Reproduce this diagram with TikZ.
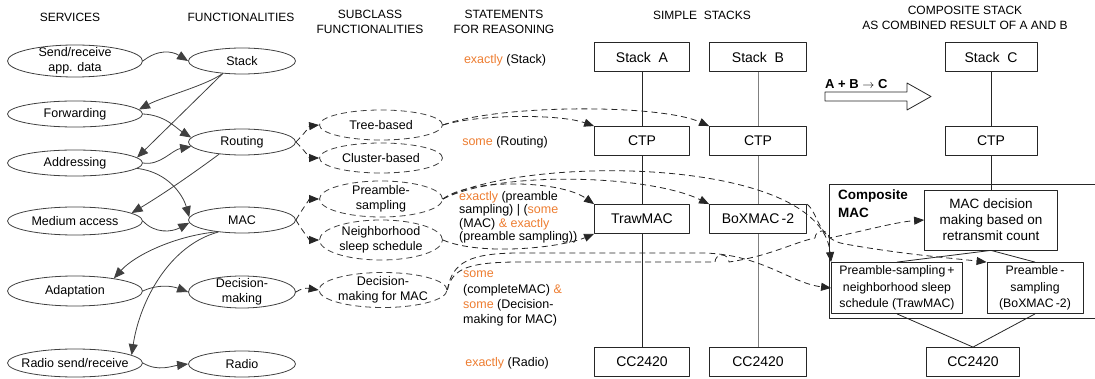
\documentclass[tikz,border=0pt]{standalone}
\usepackage{fontspec}
\setmainfont{Liberation Sans}
\usetikzlibrary{arrows.meta,shapes.geometric}
\definecolor{orng}{RGB}{237,125,49}
\definecolor{lgray}{RGB}{64,64,64}
\begin{document}
\begin{tikzpicture}[x=1pt,y=-1pt,line join=round,
	hdr/.style={font=\fontsize{12}{14.5}\selectfont,align=center,inner sep=0pt},
	srv/.style={ellipse,draw=lgray,line width=0.8pt,inner sep=0pt,minimum width=135pt,minimum height=26pt,align=center,font=\fontsize{12.5}{15}\selectfont},
	fun/.style={srv,minimum width=107pt},
	subfun/.style={srv,dash pattern=on 6pt off 4pt,minimum width=123pt,minimum height=30pt},
	stackbox/.style={draw=black!85,line width=0.8pt,minimum width=95pt,minimum height=29pt,inner sep=0pt,align=center,font=\fontsize{14}{16}\selectfont},
	stm/.style={align=left,inner sep=0pt,font=\fontsize{12.5}{13.5}\selectfont},
	solidarr/.style={-{Triangle[length=11pt,width=9pt]},draw=lgray,line width=0.8pt},
	dasharr/.style={-{Triangle[length=10pt,width=8pt]},draw=black!85,line width=0.8pt,dash pattern=on 6pt off 4pt},
	link/.style={draw=black!85,line width=0.8pt}]
	\useasboundingbox (0,0) rectangle (1095,379);
	\node[hdr] (hsrv) at (70,17) {SERVICES};
	\node[hdr] (hfun) at (241,17) {FUNCTIONALITIES};
	\node[hdr] (hsub) at (370,22) {SUBCLASS\\FUNCTIONALITIES};
	\node[hdr] (hstm) at (504,22) {STATEMENTS\\FOR REASONING};
	\node[hdr] (hsim) at (702,15) {SIMPLE\ \ STACKS};
	\node[hdr] (hcmp) at (965,18) {COMPOSITE STACK\\AS COMBINED RESULT OF A AND B};
	
	\node[srv,inner ysep=-3pt,minimum height=32pt] (send) at (75,61) {Send/receive\\app. data};
	\node[srv] (fwd) at (75,114) {Forwarding};
	\node[srv] (addr) at (75,163) {Addressing};
	\node[srv,minimum height=28pt] (medium) at (75,221) {Medium access};
	\node[srv,minimum height=30pt] (adapt) at (75,291) {Adaptation};
	\node[srv,minimum height=28pt,inner xsep=-12pt] (radiosr) at (75,363) {Radio send/receive};
	
	\node[fun] (stack) at (242,61) {Stack};
	\node[fun] (routing) at (242,142) {Routing};
	\node[fun] (mac) at (242,220) {MAC};
	\node[fun,inner ysep=-3pt,minimum height=32pt] (decide) at (242,292) {Decision-\\making};
	\node[fun] (radio) at (242,364) {Radio};
	
	\node[subfun] (tree) at (381,125) {Tree-based};
	\node[subfun] (cluster) at (381,158) {Cluster-based};
	\node[subfun,inner ysep=-1pt,minimum height=36pt] (pre) at (381,199) {Preamble-\\sampling};
	\node[subfun,minimum height=40pt] (nbr) at (381,240) {Neighborhood\\sleep schedule};
	\node[subfun,inner ysep=-1pt,minimum height=35pt,minimum width=128pt] (dmac) at (383,290) {Decision-\\making for MAC};
	
	\node[stm] (st1) at (505,60) {\textcolor{orng}{exactly} (Stack)};
	\node[stm] (st2) at (505,142) {\textcolor{orng}{some} (Routing)};
	\node[stm,anchor=north west] (st3) at (459,191) {\textcolor{orng}{exactly} (preamble\\sampling) | (\textcolor{orng}{some}\\(MAC) \textcolor{orng}{\& exactly}\\(preamble sampling))};
	\node[stm,anchor=north west,font=\fontsize{12.5}{15.3}\selectfont] (st4) at (463,271) {\textcolor{orng}{some}\\(completeMAC) \textcolor{orng}{\&}\\\textcolor{orng}{some} (Decision-\\making for MAC)};
	\node[stm] (st5) at (507,363) {\textcolor{orng}{exactly} (Radio)};
	
	\node[stackbox] (stkA) at (642,57) {Stack\ \ A};
	\node[stackbox] (ctpA) at (642,141) {CTP};
	\node[stackbox] (trawA) at (642,219) {TrawMAC};
	\node[stackbox] (ccA) at (642,362) {CC2420};
	\node[stackbox,minimum width=97pt] (stkB) at (758,57) {Stack\ \ B};
	\node[stackbox,minimum width=97pt] (ctpB) at (758,141) {CTP};
	\node[stackbox,minimum width=97pt] (boxB) at (758,219) {BoXMAC\,-2};
	\node[stackbox,minimum width=97pt] (ccB) at (758,362) {CC2420};
	
	\draw[line width=0.8pt,draw=black!85] (825,92)--(907,92)--(907,83)--(931,96.5)--(907,110)--(907,101)--(825,101)--cycle;
	\node[font=\bfseries\fontsize{13}{15}\selectfont,anchor=west,inner sep=0pt] (abc) at (825,84) {A + B $\rightarrow$ C};
	
	\node[stackbox,minimum width=92pt] (stkC) at (991,57) {Stack\ \ C};
	\node[stackbox,minimum width=92pt] (ctpC) at (991,141) {CTP};
	\node[draw=black!85,line width=0.8pt,minimum width=268pt,minimum height=134pt,inner sep=0pt] (cmpmac) at (963,251) {};
	\node[font=\bfseries\fontsize{13.5}{18}\selectfont,align=left,anchor=north west,inner sep=0pt] (cmptitle) at (838,190) {Composite\\MAC};
	\node[stackbox,minimum width=133pt,minimum height=60pt,font=\fontsize{13.5}{16}\selectfont,fill=white] (decbox) at (991,220) {MAC decision\\making based on\\retransmit count};
	\node[stackbox,minimum width=131pt,minimum height=51pt,font=\fontsize{12.3}{16.5}\selectfont] (trawC) at (897,288) {Preamble-sampling\,+\\neighborhood sleep\\schedule (TrawMAC)};
	\node[stackbox,minimum width=96pt,minimum height=51pt,font=\fontsize{12.3}{16.5}\selectfont] (boxC) at (1035,288) {Preamble\,-\\sampling\\(BoXMAC\,-2)};
	\node[stackbox,minimum width=93pt] (ccC) at (973,362) {CC2420};
	
	\draw[link] (stkA)--(ctpA)--(trawA)--(ccA);
	\draw[link,draw=gray] (stkB)--(ctpB)--(boxB)--(ccB);
	\draw[link] (stkC)--(ctpC)--(decbox);
	\draw[link] (trawC.north)--(decbox.south)--(boxC.north);
	\draw[link] (trawC.south)--(ccC.north)--(boxC.south);
	
	\draw[solidarr] (send.east) .. controls (158,49) and (172,51) .. (stack.west);
	\draw[solidarr] (stack.213) .. controls (205,86) and (162,97) .. (fwd.4);
	\draw[solidarr] (stack.213)--(addr.5);
	\draw[solidarr] (fwd.east) .. controls (165,115) and (176,128) .. (routing.175);
	\draw[solidarr] (addr.east) .. controls (160,166) and (172,150) .. (routing.185);
	\draw[solidarr] (routing.208) .. controls (195,172) and (165,193) .. (medium.8);
	\draw[solidarr] (addr.-5) .. controls (168,172) and (183,195) .. (mac.177);
	\draw[solidarr] (medium.east) .. controls (155,234) and (172,232) .. (mac.183);
	\draw[solidarr] (mac.205) .. controls (175,236) and (135,255) .. (adapt.18);
	\draw[solidarr] (mac.207) .. controls (170,245) and (140,300) .. (radiosr.8);
	\draw[solidarr] (adapt.east) .. controls (158,284) and (172,286) .. (decide.west);
	\draw[solidarr] (radiosr.east) .. controls (158,372) and (172,366) .. (radio.west);
	
	\draw[dasharr] (routing.east) .. controls (304,134) and (310,126) .. (tree.west);
	\draw[dasharr] (routing.east) .. controls (304,150) and (310,158) .. (cluster.west);
	\draw[dasharr] (mac.east) .. controls (303,208) and (310,199) .. (pre.west);
	\draw[dasharr] (mac.east) .. controls (303,232) and (310,240) .. (nbr.west);
	\draw[dasharr] (decide.east) .. controls (305,286) and (312,289) .. (dmac.west);
	
	\draw[dasharr] (tree.east) .. controls (480,114) and (560,114) .. (ctpA.north west);
	\draw[dasharr] (tree.east) .. controls (500,104) and (660,104) .. (ctpB.north west);
	\draw[dasharr] (pre.east) .. controls (470,178) and (560,180) .. (trawA.north west);
	\draw[dasharr] (pre.east) .. controls (500,170) and (650,175) .. (boxB.north west);
	\draw[dasharr] (pre.east) .. controls (520,155) and (820,155) .. (trawC.north west);
	\draw[dasharr] (nbr.east) .. controls (480,256) and (560,248) .. (trawA.south west);
	\draw[dasharr] (boxB.north east) .. controls (818,212) and (818,240) .. (845,244) .. controls (900,254) and (950,258) .. (boxC.north west);
	\draw[dasharr] (dmac.east) .. controls (452,262) and (470,253) .. (520,253)--(700,253) .. controls (760,253) and (790,283) .. (trawC.west);
	\draw[dasharr] (dmac.east) .. controls (452,268) and (470,262) .. (520,262)--(715,262) arc[start angle=180,end angle=0,radius=7pt] .. controls (770,256) and (795,242) .. (815,238) arc[start angle=180,end angle=0,radius=7pt] .. controls (860,232) and (895,222) .. (decbox.west);
\end{tikzpicture}
\end{document}
